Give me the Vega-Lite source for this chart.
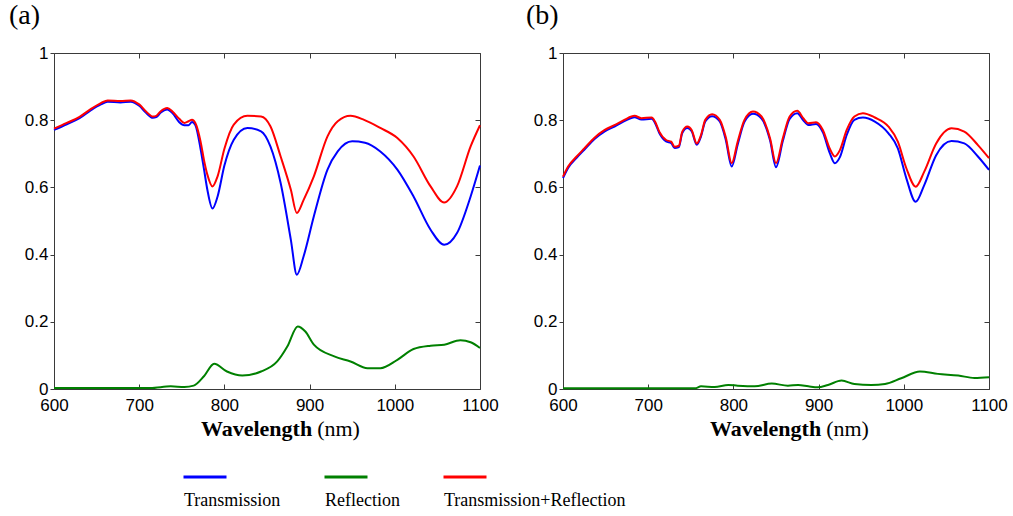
{
  "$schema": "https://vega.github.io/schema/vega-lite/v6.json",
  "background": "white",
  "padding": {"left": 8, "top": 1, "right": 2, "bottom": 2},
  "spacing": 26,
  "datasets": {
    "aT": [
      {"wl":600,"v":0.771},{"wl":615,"v":0.788},{"wl":630,"v":0.806},{"wl":643,"v":0.829},{"wl":655,"v":0.847},{"wl":663,"v":0.855},{"wl":678,"v":0.853},{"wl":690,"v":0.855},{"wl":700,"v":0.843},{"wl":708,"v":0.822},{"wl":716,"v":0.807},{"wl":720,"v":0.809},{"wl":725,"v":0.822},{"wl":733,"v":0.832},{"wl":739,"v":0.821},{"wl":747,"v":0.794},{"wl":753,"v":0.785},{"wl":758,"v":0.785},{"wl":762,"v":0.795},{"wl":766,"v":0.785},{"wl":772,"v":0.715},{"wl":776,"v":0.655},{"wl":780,"v":0.593},{"wl":786,"v":0.537},{"wl":792,"v":0.573},{"wl":800,"v":0.665},{"wl":811,"v":0.742},{"wl":827,"v":0.777},{"wl":843,"v":0.767},{"wl":854,"v":0.722},{"wl":866,"v":0.613},{"wl":878,"v":0.444},{"wl":885,"v":0.340},{"wl":893,"v":0.395},{"wl":905,"v":0.514},{"wl":921,"v":0.653},{"wl":933,"v":0.707},{"wl":950,"v":0.737},{"wl":965,"v":0.733},{"wl":983,"v":0.707},{"wl":1003,"v":0.653},{"wl":1022,"v":0.573},{"wl":1042,"v":0.474},{"wl":1058,"v":0.429},{"wl":1073,"v":0.464},{"wl":1089,"v":0.573},{"wl":1100,"v":0.665}
    ],
    "aR": [
      {"wl":600,"v":0.003},{"wl":700,"v":0.003},{"wl":713,"v":0.003},{"wl":737,"v":0.008},{"wl":753,"v":0.006},{"wl":764,"v":0.01},{"wl":776,"v":0.038},{"wl":788,"v":0.075},{"wl":803,"v":0.052},{"wl":821,"v":0.04},{"wl":843,"v":0.052},{"wl":862,"v":0.082},{"wl":874,"v":0.127},{"wl":886,"v":0.186},{"wl":895,"v":0.171},{"wl":905,"v":0.132},{"wl":929,"v":0.097},{"wl":948,"v":0.082},{"wl":968,"v":0.062},{"wl":983,"v":0.062},{"wl":1003,"v":0.087},{"wl":1022,"v":0.119},{"wl":1042,"v":0.129},{"wl":1058,"v":0.132},{"wl":1077,"v":0.145},{"wl":1089,"v":0.139},{"wl":1100,"v":0.122}
    ],
    "aTR": [
      {"wl":600,"v":0.775},{"wl":615,"v":0.792},{"wl":630,"v":0.810},{"wl":643,"v":0.833},{"wl":655,"v":0.851},{"wl":663,"v":0.859},{"wl":678,"v":0.857},{"wl":690,"v":0.859},{"wl":700,"v":0.847},{"wl":708,"v":0.826},{"wl":716,"v":0.811},{"wl":720,"v":0.813},{"wl":725,"v":0.826},{"wl":733,"v":0.836},{"wl":739,"v":0.826},{"wl":747,"v":0.804},{"wl":753,"v":0.792},{"wl":758,"v":0.797},{"wl":762,"v":0.801},{"wl":766,"v":0.791},{"wl":772,"v":0.737},{"wl":776,"v":0.682},{"wl":780,"v":0.638},{"wl":786,"v":0.603},{"wl":792,"v":0.633},{"wl":800,"v":0.715},{"wl":811,"v":0.787},{"wl":827,"v":0.813},{"wl":843,"v":0.811},{"wl":854,"v":0.782},{"wl":866,"v":0.692},{"wl":878,"v":0.593},{"wl":885,"v":0.524},{"wl":893,"v":0.563},{"wl":905,"v":0.633},{"wl":921,"v":0.752},{"wl":933,"v":0.797},{"wl":948,"v":0.813},{"wl":964,"v":0.801},{"wl":983,"v":0.777},{"wl":1003,"v":0.747},{"wl":1022,"v":0.692},{"wl":1042,"v":0.603},{"wl":1058,"v":0.555},{"wl":1073,"v":0.603},{"wl":1089,"v":0.722},{"wl":1100,"v":0.785}
    ],
    "bT": [
      {"wl":600,"v":0.628},{"wl":606,"v":0.658},{"wl":616,"v":0.688},{"wl":625,"v":0.712},{"wl":637,"v":0.744},{"wl":649,"v":0.767},{"wl":661,"v":0.782},{"wl":672,"v":0.797},{"wl":684,"v":0.809},{"wl":692,"v":0.802},{"wl":704,"v":0.804},{"wl":708,"v":0.792},{"wl":713,"v":0.762},{"wl":721,"v":0.737},{"wl":727,"v":0.732},{"wl":731,"v":0.717},{"wl":736,"v":0.720},{"wl":740,"v":0.762},{"wl":746,"v":0.777},{"wl":751,"v":0.767},{"wl":757,"v":0.727},{"wl":762,"v":0.752},{"wl":767,"v":0.796},{"wl":775,"v":0.812},{"wl":784,"v":0.796},{"wl":791,"v":0.742},{"wl":798,"v":0.662},{"wl":805,"v":0.727},{"wl":813,"v":0.795},{"wl":823,"v":0.819},{"wl":833,"v":0.805},{"wl":843,"v":0.740},{"wl":850,"v":0.660},{"wl":858,"v":0.738},{"wl":866,"v":0.804},{"wl":875,"v":0.821},{"wl":882,"v":0.800},{"wl":888,"v":0.786},{"wl":897,"v":0.789},{"wl":905,"v":0.764},{"wl":913,"v":0.703},{"wl":919,"v":0.672},{"wl":925,"v":0.690},{"wl":933,"v":0.756},{"wl":942,"v":0.801},{"wl":952,"v":0.808},{"wl":966,"v":0.796},{"wl":982,"v":0.761},{"wl":993,"v":0.716},{"wl":1003,"v":0.627},{"wl":1014,"v":0.557},{"wl":1024,"v":0.607},{"wl":1038,"v":0.696},{"wl":1056,"v":0.738},{"wl":1071,"v":0.731},{"wl":1087,"v":0.692},{"wl":1100,"v":0.652}
    ],
    "bR": [
      {"wl":600,"v":0.002},{"wl":680,"v":0.002},{"wl":755,"v":0.002},{"wl":762,"v":0.008},{"wl":778,"v":0.006},{"wl":794,"v":0.012},{"wl":805,"v":0.01},{"wl":825,"v":0.008},{"wl":845,"v":0.016},{"wl":864,"v":0.01},{"wl":876,"v":0.012},{"wl":888,"v":0.008},{"wl":899,"v":0.005},{"wl":911,"v":0.012},{"wl":927,"v":0.025},{"wl":942,"v":0.015},{"wl":962,"v":0.012},{"wl":978,"v":0.015},{"wl":997,"v":0.032},{"wl":1019,"v":0.052},{"wl":1040,"v":0.045},{"wl":1064,"v":0.04},{"wl":1083,"v":0.033},{"wl":1100,"v":0.035}
    ],
    "bTR": [
      {"wl":600,"v":0.632},{"wl":606,"v":0.662},{"wl":616,"v":0.692},{"wl":625,"v":0.716},{"wl":637,"v":0.748},{"wl":649,"v":0.771},{"wl":661,"v":0.786},{"wl":672,"v":0.801},{"wl":684,"v":0.813},{"wl":692,"v":0.806},{"wl":704,"v":0.808},{"wl":708,"v":0.796},{"wl":713,"v":0.766},{"wl":721,"v":0.741},{"wl":727,"v":0.736},{"wl":731,"v":0.721},{"wl":736,"v":0.724},{"wl":740,"v":0.766},{"wl":746,"v":0.781},{"wl":751,"v":0.771},{"wl":757,"v":0.731},{"wl":762,"v":0.756},{"wl":767,"v":0.801},{"wl":775,"v":0.818},{"wl":784,"v":0.801},{"wl":791,"v":0.750},{"wl":798,"v":0.672},{"wl":805,"v":0.736},{"wl":813,"v":0.801},{"wl":823,"v":0.826},{"wl":833,"v":0.811},{"wl":843,"v":0.746},{"wl":850,"v":0.672},{"wl":858,"v":0.746},{"wl":866,"v":0.811},{"wl":875,"v":0.828},{"wl":882,"v":0.806},{"wl":888,"v":0.791},{"wl":897,"v":0.794},{"wl":905,"v":0.771},{"wl":913,"v":0.716},{"wl":919,"v":0.692},{"wl":925,"v":0.711},{"wl":933,"v":0.771},{"wl":942,"v":0.811},{"wl":952,"v":0.821},{"wl":966,"v":0.808},{"wl":982,"v":0.781},{"wl":993,"v":0.736},{"wl":1003,"v":0.657},{"wl":1014,"v":0.602},{"wl":1024,"v":0.647},{"wl":1038,"v":0.731},{"wl":1056,"v":0.776},{"wl":1071,"v":0.766},{"wl":1087,"v":0.726},{"wl":1100,"v":0.687}
    ]
  },
  "hconcat": [
    {
      "width": 426, "height": 336,
      "title": {"text": "(a)", "anchor": "start", "frame": "group", "dx": -45, "offset": -8, "baseline": "alphabetic", "font": "Liberation Serif", "fontSize": 28, "fontWeight": "normal", "color": "#000"},
      "layer": [
        {
          "data": {"name": "aT"},
          "mark": {"type": "line", "strokeWidth": 2, "interpolate": "monotone"},
          "encoding": {
            "x": {"field": "wl", "type": "quantitative", "scale": {"domain": [600, 1100], "nice": false, "zero": false},
                  "axis": {"orient": "bottom", "values": [600,700,800,900,1000,1100], "format": "d", "tickSize": -5, "labelPadding": 13, "title": "Wavelength", "titleFont": "Liberation Serif", "titleFontSize": 22, "titleFontWeight": "bold", "titleX": 202, "titleY": 46, "titleBaseline": "alphabetic", "titleAlign": "center"}},
            "y": {"field": "v", "type": "quantitative", "scale": {"domain": [0, 1], "nice": false, "zero": false},
                  "axis": {"orient": "left", "values": [0,0.2,0.4,0.6,0.8,1], "format": "~g", "tickSize": 4, "labelPadding": 2, "title": null}},
            "color": {"datum": "Transmission", "type": "nominal", "scale": {"domain": ["Transmission", "Reflection", "Transmission+Reflection"], "range": ["#0000ff", "#008000", "#ff0000"]}}
          }
        },
        {
          "data": {"name": "aR"},
          "mark": {"type": "line", "strokeWidth": 2, "interpolate": "monotone"},
          "encoding": {
            "x": {"field": "wl", "type": "quantitative", "axis": {"orient": "top", "values": [600,700,800,900,1000,1100], "labels": false, "tickSize": -5, "title": null}},
            "y": {"field": "v", "type": "quantitative", "axis": {"orient": "right", "values": [0,0.2,0.4,0.6,0.8,1], "labels": false, "tickSize": -5, "title": null}},
            "color": {"datum": "Reflection", "type": "nominal"}
          }
        },
        {
          "data": {"name": "aTR"},
          "mark": {"type": "line", "strokeWidth": 2, "interpolate": "monotone"},
          "encoding": {
            "x": {"field": "wl", "type": "quantitative", "axis": {"orient": "bottom", "labels": false, "ticks": false, "title": "(nm)", "titleFont": "Liberation Serif", "titleFontSize": 22, "titleFontWeight": "normal", "titleX": 284, "titleY": 46, "titleBaseline": "alphabetic", "titleAlign": "center"}},
            "y": {"field": "v", "type": "quantitative", "axis": null},
            "color": {"datum": "Transmission+Reflection", "type": "nominal"}
          }
        }
      ],
      "resolve": {"axis": {"x": "independent", "y": "independent"}}
    },
    {
      "width": 426, "height": 336,
      "title": {"text": "(b)", "anchor": "start", "frame": "group", "dx": -37, "offset": -8, "baseline": "alphabetic", "font": "Liberation Serif", "fontSize": 28, "fontWeight": "normal", "color": "#000"},
      "layer": [
        {
          "data": {"name": "bT"},
          "mark": {"type": "line", "strokeWidth": 2, "interpolate": "monotone"},
          "encoding": {
            "x": {"field": "wl", "type": "quantitative", "scale": {"domain": [600, 1100], "nice": false, "zero": false},
                  "axis": {"orient": "bottom", "values": [600,700,800,900,1000,1100], "format": "d", "tickSize": -5, "labelPadding": 13, "title": "Wavelength", "titleFont": "Liberation Serif", "titleFontSize": 22, "titleFontWeight": "bold", "titleX": 202, "titleY": 46, "titleBaseline": "alphabetic", "titleAlign": "center"}},
            "y": {"field": "v", "type": "quantitative", "scale": {"domain": [0, 1], "nice": false, "zero": false},
                  "axis": {"orient": "left", "values": [0,0.2,0.4,0.6,0.8,1], "format": "~g", "tickSize": 4, "labelPadding": 2, "title": null}},
            "color": {"datum": "Transmission", "type": "nominal"}
          }
        },
        {
          "data": {"name": "bR"},
          "mark": {"type": "line", "strokeWidth": 2, "interpolate": "monotone"},
          "encoding": {
            "x": {"field": "wl", "type": "quantitative", "axis": {"orient": "top", "values": [600,700,800,900,1000,1100], "labels": false, "tickSize": -5, "title": null}},
            "y": {"field": "v", "type": "quantitative", "axis": {"orient": "right", "values": [0,0.2,0.4,0.6,0.8,1], "labels": false, "tickSize": -5, "title": null}},
            "color": {"datum": "Reflection", "type": "nominal"}
          }
        },
        {
          "data": {"name": "bTR"},
          "mark": {"type": "line", "strokeWidth": 2, "interpolate": "monotone"},
          "encoding": {
            "x": {"field": "wl", "type": "quantitative", "axis": {"orient": "bottom", "labels": false, "ticks": false, "title": "(nm)", "titleFont": "Liberation Serif", "titleFontSize": 22, "titleFontWeight": "normal", "titleX": 284, "titleY": 46, "titleBaseline": "alphabetic", "titleAlign": "center"}},
            "y": {"field": "v", "type": "quantitative", "axis": null},
            "color": {"datum": "Transmission+Reflection", "type": "nominal"}
          }
        }
      ],
      "resolve": {"axis": {"x": "independent", "y": "independent"}}
    }
  ],
  "config": {
    "view": {"stroke": "#3a3a3a", "strokeWidth": 1},
    "axis": {"grid": false, "domain": false, "minExtent": 0, "labelFlush": false, "labelOverlap": false, "labelFont": "Liberation Sans", "labelFontSize": 17, "labelColor": "#000", "tickColor": "#3a3a3a", "tickWidth": 1, "titleColor": "#000"},
    "legend": {
      "orient": "none", "legendX": 128, "legendY": 425, "direction": "horizontal", "title": null,
      "symbolType": "M-1,-1.12L1,-1.12", "symbolSize": 1849, "symbolStrokeWidth": 3,
      "labelFont": "Liberation Serif", "labelFontSize": 18, "labelColor": "#000", "labelOffset": -44, "labelLimit": 400,
      "columnPadding": 37, "padding": 0
    }
  }
}
